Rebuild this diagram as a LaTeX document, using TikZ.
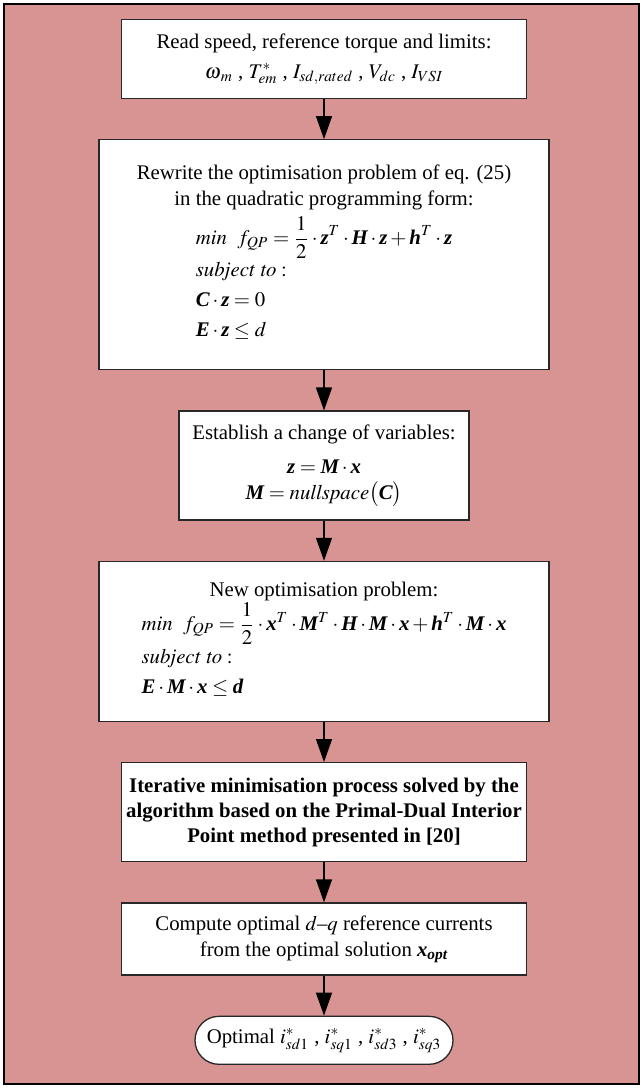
\documentclass[tikz,border=0pt]{standalone}
\usepackage{amsmath}
\usepackage{mathptmx}
\usepackage{fontspec}
\setmainfont{Liberation Serif}
\usetikzlibrary{arrows.meta,positioning}

\definecolor{bgred}{RGB}{216,148,146}
\definecolor{edgegray}{RGB}{40,40,40}
\newcommand{\bv}[1]{\text{\bfseries\itshape #1}}

\begin{document}
\begin{tikzpicture}[
        x=0.5pt, y=-0.5pt,
        node distance=20pt,
        font=\fontsize{10.4pt}{13pt}\selectfont,
        box/.style={draw=edgegray, fill=white, line width=0.65pt, align=center, inner sep=2pt},
        widebox/.style={box, minimum width=225pt},
        midbox/.style={box, minimum width=202.5pt},
        termbox/.style={box, rounded corners=12pt, minimum width=129pt, minimum height=24pt},
        arrow/.style={-{Triangle[width=8pt,length=11.5pt]}, line width=0.65pt}
    ]
        % frame
        \useasboundingbox (0,0) rectangle (642,1088);
        \draw[fill=bgred, line width=1pt] (3.5,3.5) rectangle (638.5,1083.5);

        \node[midbox, minimum height=39.5pt] (read) at (324,59)
            {Read speed, reference torque and limits:\\[2pt]
             $\omega_{\mkern2mu m}$ , $T^*_{em}$ , $I_{sd,rated}$ , $V_{dc}$ , $I_{VSI}$};
        \node[widebox, minimum height=115pt, below=of read] (qpform)
            {Rewrite the optimisation problem of eq. (25)\\
             in the quadratic programming form:\\[2pt]
             \begin{tabular}{@{}l@{}}
             $\displaystyle \mathit{min}\ \ f_{QP}=\frac{1}{2}\cdot\bv{z}^T\cdot\bv{H}\cdot\bv{z}+\bv{h}^T\cdot\bv{z}$\\[3pt]
             $\mathit{subject\ to}:$\\[2pt]
             $\bv{C}\cdot\bv{z}=0$\\[2pt]
             $\bv{E}\cdot\bv{z}\le d$
             \end{tabular}};
        \node[box, minimum width=145pt, minimum height=54.5pt, below=of qpform] (change)
            {Establish a change of variables:\\[4pt]
             $\bv{z}=\bv{M}\cdot\bv{x}$\\
             $\bv{M}=\mathit{nullspace}\bigl(\bv{C}\bigr)$};
        \node[widebox, minimum height=80pt, below=of change] (newprob)
            {New optimisation problem:\\
             \begin{tabular}{@{}l@{}}
             $\displaystyle \mathit{min}\ \ f_{QP}=\frac{1}{2}\cdot\bv{x}^T\cdot\bv{M}^T\cdot\bv{H}\cdot\bv{M}\cdot\bv{x}+\bv{h}^T\cdot\bv{M}\cdot\bv{x}$\\[2pt]
             $\mathit{subject\ to}:$\\[2pt]
             $\bv{E}\cdot\bv{M}\cdot\bv{x}\le\bv{d}$
             \end{tabular}};
        \node[midbox, minimum height=49.5pt, below=of newprob,
              font=\fontsize{10.4pt}{12.5pt}\selectfont\bfseries] (pdip)
            {Iterative minimisation process solved by the\\
             algorithm based on the Primal-Dual Interior\\
             Point method presented in [20]};
        \node[midbox, minimum height=36pt, below=of pdip] (refcur)
            {Compute optimal $d$--$q$ reference currents\\
             from the optimal solution $\bv{x}_{\bv{opt}}$};
        \node[termbox, below=of refcur] (optimal)
            {Optimal $i^*_{sd1}$ , $i^*_{sq1}$ , $i^*_{sd3}$ , $i^*_{sq3}$};

        \draw[arrow] (read) -- (qpform);
        \draw[arrow] (qpform) -- (change);
        \draw[arrow] (change) -- (newprob);
        \draw[arrow] (newprob) -- (pdip);
        \draw[arrow] (pdip) -- (refcur);
        \draw[arrow] (refcur) -- (optimal);
    \end{tikzpicture}
\end{document}
